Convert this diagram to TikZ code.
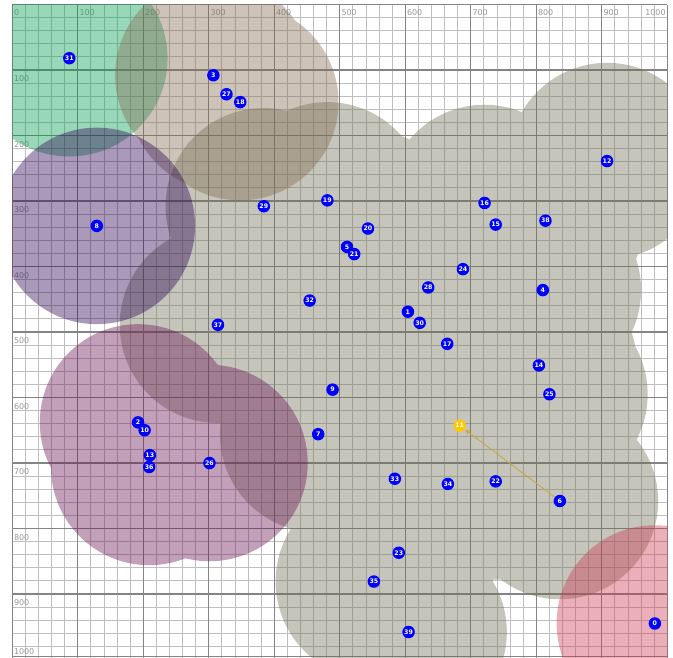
\documentclass[tikz,border=0pt]{standalone}
\usepackage{fontspec}
\setmainfont{DejaVu Sans}
\usetikzlibrary{arrows.meta}
\definecolor{gridfine}{RGB}{190,190,190}
\definecolor{gridmajor}{RGB}{132,132,132}
\definecolor{axistext}{RGB}{150,150,150}
\definecolor{cgray}{RGB}{110,110,88}
\definecolor{cbrown}{RGB}{130,105,80}
\definecolor{cgreen}{RGB}{0,155,80}
\definecolor{cpurple}{RGB}{42,0,80}
\definecolor{cmauve}{RGB}{105,17,80}
\definecolor{cred}{RGB}{205,55,80}
\definecolor{nodeblue}{RGB}{0,0,250}
\definecolor{nodegold}{RGB}{255,200,0}
\definecolor{linkgold}{RGB}{205,165,60}
\begin{document}
\begin{tikzpicture}[x=0.655bp,y=-0.655bp,
  fineline/.style={draw=gridfine,line width=1bp},
  majorline/.style={draw=gridmajor,line width=1.2bp},
  axislabel/.style={text=axistext,font=\fontsize{8}{9}\selectfont,inner sep=0pt},
  cover/.style={fill opacity=0.4},
  sta/.style={circle,fill=nodeblue,text=white,inner sep=0pt,minimum size=12.5bp,font=\fontsize{6.3}{7}\selectfont\bfseries},
  stasel/.style={sta,fill=nodegold},
  link/.style={draw=linkgold,draw opacity=0.85,line width=1bp,-{Stealth[length=6bp,width=5bp]}}]
\useasboundingbox (-18.8,-6.9) rectangle (1008.7,997.7);
% grid
\foreach \v in {20,40,...,980} {
  \draw[fineline] (\v,0) -- (\v,1000);
  \draw[fineline] (0,\v) -- (1000,\v);
}
\foreach \v in {0,100,...,1000} {
  \draw[majorline] (\v,0) -- (\v,1000);
  \draw[majorline] (0,\v) -- (1000,\v);
}
\draw[majorline] (0,996) -- (1000,996);
% axis labels
\foreach \v in {0,100,...,900}
  \node[axislabel,anchor=north west] (tx\v) at ([xshift=1.5bp,yshift=-4.5bp]\v,0) {\v};
\node[axislabel,anchor=north east] (tx1000) at ([xshift=-1.5bp,yshift=-4.5bp]1000,0) {1000};
\foreach \v in {100,200,...,900}
  \node[axislabel,anchor=north west] (ty\v) at ([xshift=1.5bp,yshift=-5.5bp]0,\v) {\v};
\node[axislabel,anchor=south west] (ty1000) at ([xshift=1.5bp,yshift=2bp]0,996) {1000};
% positions
\coordinate (p0) at (981,945);
\coordinate (p1) at (604,469);
\coordinate (p2) at (192,638);
\coordinate (p3) at (307,108);
\coordinate (p4) at (810,436);
\coordinate (p5) at (511,370);
\coordinate (p6) at (836,758);
\coordinate (p7) at (467,656);
\coordinate (p8) at (129,338);
\coordinate (p9) at (489,588);
\coordinate (p10) at (202,650);
\coordinate (p11) at (683,643);
\coordinate (p12) at (908,239);
\coordinate (p13) at (210,688);
\coordinate (p14) at (804,551);
\coordinate (p15) at (738,336);
\coordinate (p16) at (721,303);
\coordinate (p17) at (664,518);
\coordinate (p18) at (348,149);
\coordinate (p19) at (481,299);
\coordinate (p20) at (543,342);
\coordinate (p21) at (522,381);
\coordinate (p22) at (738,728);
\coordinate (p23) at (590,837);
\coordinate (p24) at (688,404);
\coordinate (p25) at (820,595);
\coordinate (p26) at (301,700);
\coordinate (p27) at (327,137);
\coordinate (p28) at (635,432);
\coordinate (p29) at (384,308);
\coordinate (p30) at (622,486);
\coordinate (p31) at (87,82);
\coordinate (p32) at (454,452);
\coordinate (p33) at (584,724);
\coordinate (p34) at (665,732);
\coordinate (p35) at (552,881);
\coordinate (p36) at (209,706);
\coordinate (p37) at (314,489);
\coordinate (p38) at (814,330);
\coordinate (p39) at (605,958);
% coverage areas
\begin{scope}
\clip (0,0) rectangle (1000,1000);
\fill[cover,cgray] foreach \p in {1,4,5,6,7,9,11,12,14,15,16,17,19,20,21,22,23,24,25,28,29,30,32,33,34,35,37,38,39} {(p\p) circle[radius=150]};
\fill[cover,cgreen] (p31) circle[radius=150];
\fill[cover,cbrown] foreach \p in {3,27,18} {(p\p) circle[radius=150]};
\fill[cover,cpurple] (p8) circle[radius=150];
\fill[cover,cmauve] foreach \p in {2,10,13,36,26} {(p\p) circle[radius=150]};
\fill[cover,cred] (p0) circle[radius=150];
\end{scope}
% stations
\foreach \i in {0,1,...,10,12,13,...,39}
  \node[sta] (n\i) at (p\i) {\i};
\node[stasel] (n11) at (p11) {11};
\draw[link] (n6) -- (n11);
\end{tikzpicture}
\end{document}
